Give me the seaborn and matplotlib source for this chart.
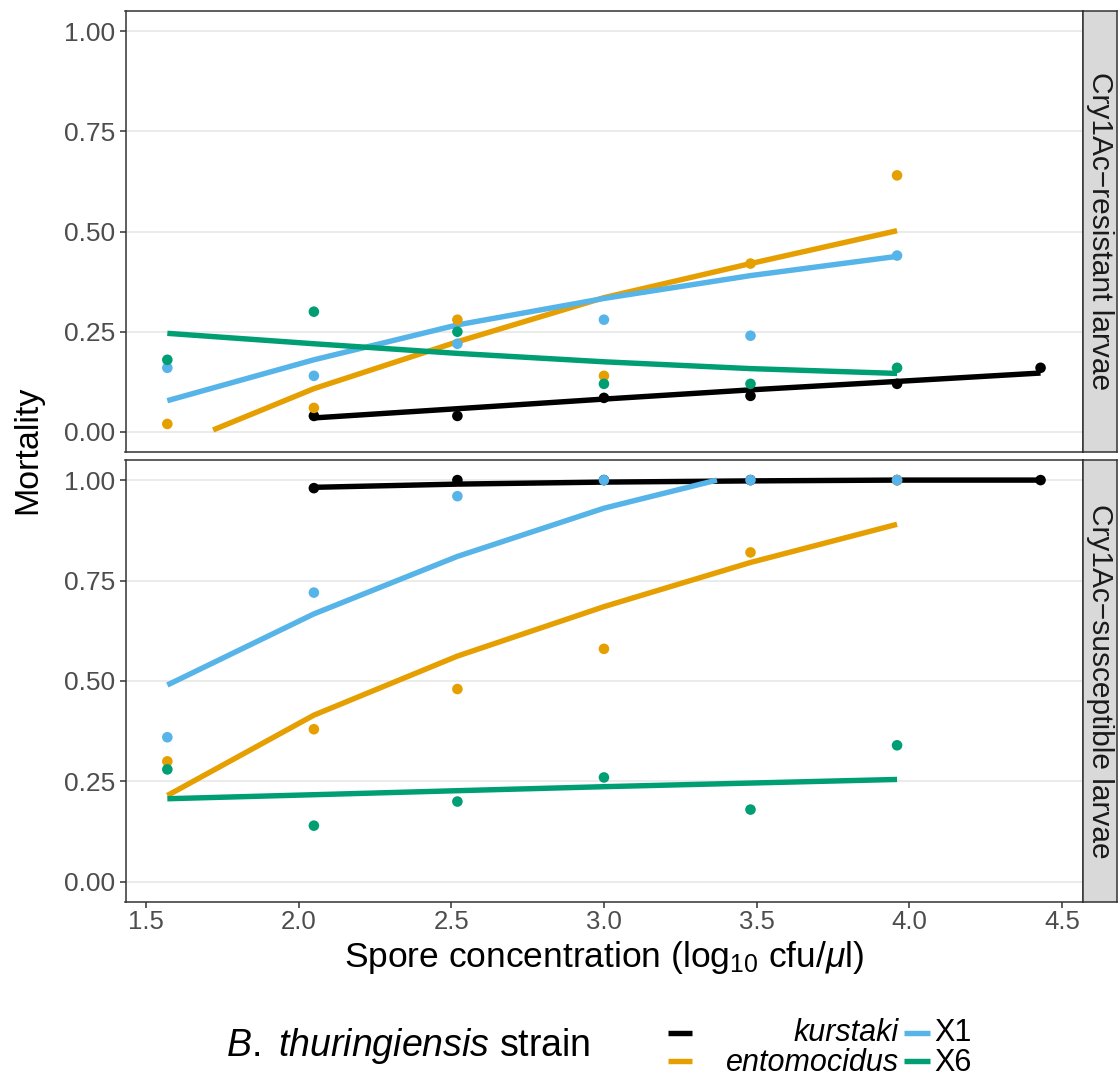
import matplotlib
matplotlib.use("Agg")
import matplotlib.pyplot as plt
import seaborn as sns
import pandas as pd
from matplotlib import font_manager
from matplotlib.lines import Line2D

# ---------------- data ----------------
strains = ["kurstaki", "entomocidus", "X1", "X6"]
colors = ["#000000", "#E69F00", "#56B4E9", "#009E73"]
panels = ["Cry1Ac\u2212resistant larvae", "Cry1Ac\u2212susceptible larvae"]

dose_k = [2.05, 2.52, 3.00, 3.48, 3.96, 4.43]
dose_o = [1.57, 2.05, 2.52, 3.00, 3.48, 3.96]

# observed mortality, resistant larvae
res_kurstaki = [0.04, 0.04, 0.085, 0.09, 0.12, 0.16]
res_entomocidus = [0.02, 0.06, 0.28, 0.14, 0.42, 0.64]
res_X1 = [0.16, 0.14, 0.22, 0.28, 0.24, 0.44]
res_X6 = [0.18, 0.30, 0.25, 0.12, 0.12, 0.16]
# observed mortality, susceptible larvae
sus_kurstaki = [0.98, 1.00, 1.00, 1.00, 1.00, 1.00]
sus_entomocidus = [0.30, 0.38, 0.48, 0.58, 0.82, 1.00]
sus_X1 = [0.36, 0.72, 0.96, 1.00, 1.00, 1.00]
sus_X6 = [0.28, 0.14, 0.20, 0.26, 0.18, 0.34]

# fitted curves
fit_res_kurstaki_x = [2.05, 2.52, 3.00, 3.48, 3.96, 4.43]
fit_res_kurstaki_y = [0.035, 0.058, 0.082, 0.105, 0.126, 0.147]
fit_res_entomocidus_x = [1.72, 2.05, 2.52, 3.00, 3.48, 3.96]
fit_res_entomocidus_y = [0.005, 0.108, 0.225, 0.335, 0.42, 0.502]
fit_res_X1_x = [1.57, 2.05, 2.52, 3.00, 3.48, 3.96]
fit_res_X1_y = [0.078, 0.18, 0.267, 0.333, 0.39, 0.438]
fit_res_X6_x = [1.57, 2.05, 2.52, 3.00, 3.48, 3.96]
fit_res_X6_y = [0.246, 0.22, 0.196, 0.175, 0.158, 0.146]

fit_sus_kurstaki_x = [2.05, 2.52, 3.00, 3.48, 3.96, 4.43]
fit_sus_kurstaki_y = [0.982, 0.99, 0.995, 0.998, 1.0, 1.0]
fit_sus_entomocidus_x = [1.57, 2.05, 2.52, 3.00, 3.48, 3.96]
fit_sus_entomocidus_y = [0.215, 0.415, 0.562, 0.685, 0.795, 0.89]
fit_sus_X1_x = [1.57, 2.05, 2.52, 3.00, 3.37]
fit_sus_X1_y = [0.49, 0.667, 0.81, 0.93, 1.0]
fit_sus_X6_x = [1.57, 2.05, 2.52, 3.00, 3.48, 3.96]
fit_sus_X6_y = [0.207, 0.217, 0.227, 0.237, 0.246, 0.255]

xticks = [1.5, 2.0, 2.5, 3.0, 3.5, 4.0, 4.5]
yticks = [0.0, 0.25, 0.5, 0.75, 1.0]
ytick_labels = ["0.00", "0.25", "0.50", "0.75", "1.00"]

# ---------------- style ----------------
sns.set_theme(style="white")
available = {f.name for f in font_manager.fontManager.ttflist}
narrow = "Liberation Sans Narrow" in available
FONT = "Liberation Sans Narrow" if narrow else "Liberation Sans"
k = 1.12 if narrow else 1.0
plt.rcParams["font.family"] = [FONT, "DejaVu Sans"]
plt.rcParams["mathtext.fontset"] = "custom"
plt.rcParams["mathtext.rm"] = FONT
plt.rcParams["mathtext.it"] = FONT + ":italic"
plt.rcParams["mathtext.bf"] = FONT + ":bold"

palette = dict(zip(strains, colors))


def build(panel_obs, panel_fit):
    pts = []
    for s, vals in zip(strains, panel_obs):
        xs = dose_k if s == "kurstaki" else dose_o
        for xv, yv in zip(xs, vals):
            pts.append({"dose": xv, "mortality": yv, "strain": s})
    fits = []
    for s, (fx, fy) in zip(strains, panel_fit):
        for xv, yv in zip(fx, fy):
            fits.append({"dose": xv, "mortality": yv, "strain": s})
    return pd.DataFrame(pts), pd.DataFrame(fits)


obs_top = [res_kurstaki, res_entomocidus, res_X1, res_X6]
fit_top = [(fit_res_kurstaki_x, fit_res_kurstaki_y), (fit_res_entomocidus_x, fit_res_entomocidus_y),
           (fit_res_X1_x, fit_res_X1_y), (fit_res_X6_x, fit_res_X6_y)]
obs_bot = [sus_kurstaki, sus_entomocidus, sus_X1, sus_X6]
fit_bot = [(fit_sus_kurstaki_x, fit_sus_kurstaki_y), (fit_sus_entomocidus_x, fit_sus_entomocidus_y),
           (fit_sus_X1_x, fit_sus_X1_y), (fit_sus_X6_x, fit_sus_X6_y)]

W, H = 1118, 1077
fig = plt.figure(figsize=(W / 100, H / 100), dpi=100)
fig.patch.set_facecolor("white")

left, right = 125.5, 1083
panel_px = [(11, 452), (460, 902)]
axes = []
for (top, bot) in panel_px:
    ax = fig.add_axes([left / W, 1 - bot / H, (right - left) / W, (bot - top) / H])
    axes.append(ax)

for ax, obs, fit, lab in zip(axes, [obs_top, obs_bot], [fit_top, fit_bot], panels):
    dpts, dfit = build(obs, fit)
    sns.lineplot(data=dfit, x="dose", y="mortality", hue="strain", hue_order=strains,
                 palette=palette, linewidth=3.9, legend=False, ax=ax, estimator=None,
                 sort=True, solid_capstyle="butt", zorder=2)
    sns.scatterplot(data=dpts, x="dose", y="mortality", hue="strain", hue_order=strains,
                    palette=palette, s=58, edgecolor="none", legend=False, ax=ax, zorder=3)
    ax.set_xlim(1.433, 4.569)
    ax.set_ylim(-0.05, 1.05)
    ax.set_yticks(yticks)
    ax.set_yticklabels(ytick_labels)
    ax.set_xticks(xticks)
    ax.set_xticklabels([f"{t:.1f}" for t in xticks])
    ax.set_xlabel("")
    ax.set_ylabel("")
    ax.yaxis.grid(True, color="#EBEBEB", linewidth=1.4)
    ax.xaxis.grid(False)
    ax.set_axisbelow(True)
    for sp in ax.spines.values():
        sp.set_color("#333333")
        sp.set_linewidth(1.1)
    ax.tick_params(axis="y", which="major", length=4.5, width=1.1, color="#333333",
                   labelcolor="#4D4D4D", labelsize=19 * k, pad=3, left=True)
    ax.tick_params(axis="x", which="major", length=4.5, width=1.1, color="#333333",
                   labelcolor="#4D4D4D", labelsize=18.5 * k, pad=1.5, bottom=True)
    ax.set_facecolor("white")

    # facet strip
    pos = ax.get_position()
    sax = fig.add_axes([right / W, pos.y0, 34 / W, pos.height])
    sax.set_facecolor("#D9D9D9")
    sax.set_xticks([])
    sax.set_yticks([])
    for sp in sax.spines.values():
        sp.set_color("#333333")
        sp.set_linewidth(1.1)
    sax.text(0.5, 0.5, lab, rotation=-90, ha="center", va="center", fontsize=21.5 * k,
             color="#1A1A1A", transform=sax.transAxes)

axes[0].tick_params(axis="x", bottom=False, labelbottom=False)

fig.text(28 / W, 1 - 450 / H, "Mortality", rotation=90, ha="center", va="center",
         fontsize=24.5 * k, color="black")
fig.text((left + right) / 2 / W, 1 - 958 / H, r"Spore concentration (log$_{10}$ cfu/$\mu$l)",
         ha="center", va="center", fontsize=25.5 * k, color="black")

# ---------------- legend ----------------
fig.text(226 / W, 1 - 1046 / H, r"$\it{B.\ thuringiensis}$ strain", ha="left", va="center",
         fontsize=27 * k, color="black")
row_y = [1033, 1061]
row_base = [1041, 1071]
key_cols = [(668, 692), (904, 930)]
entries = [(0, 0, "kurstaki"), (0, 1, "entomocidus"), (1, 0, "X1"), (1, 1, "X6")]
for (col, row, label), c in zip(entries, colors):
    x0, x1 = key_cols[col]
    y = 1 - row_y[row] / H
    yb = 1 - row_base[row] / H
    fig.add_artist(Line2D([x0 / W, x1 / W], [y, y], color=c, linewidth=3.9,
                          transform=fig.transFigure, solid_capstyle="butt"))
    if col == 0:
        fig.text(899 / W, yb, label, ha="right", va="baseline", fontsize=22 * k,
                 style="italic", color="black")
    else:
        fig.text(934 / W, yb, label, ha="left", va="baseline", fontsize=22 * k, color="black")

fig.savefig("out.png", dpi=100, facecolor="white")
